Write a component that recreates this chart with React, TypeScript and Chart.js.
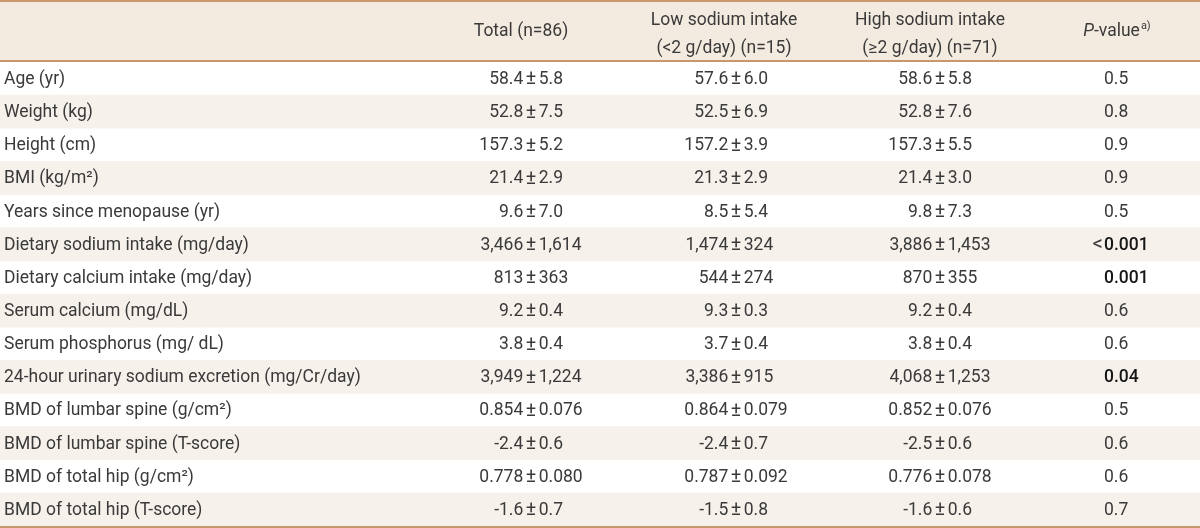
import React, { useEffect, useRef } from "react";
import { Chart, registerables } from "chart.js";

Chart.register(...registerables);

// ---------- data ----------
const rowLabels = [
  "Age (yr)",
  "Weight (kg)",
  "Height (cm)",
  "BMI (kg/m²)",
  "Years since menopause (yr)",
  "Dietary sodium intake (mg/day)",
  "Dietary calcium intake (mg/day)",
  "Serum calcium (mg/dL)",
  "Serum phosphorus (mg/ dL)",
  "24-hour urinary sodium excretion (mg/Cr/day)",
  "BMD of lumbar spine (g/cm²)",
  "BMD of lumbar spine (T-score)",
  "BMD of total hip (g/cm²)",
  "BMD of total hip (T-score)",
];

const totalValues = [
  "58.4±5.8", "52.8±7.5", "157.3±5.2", "21.4±2.9", "9.6±7.0",
  "3,466±1,614", "813±363", "9.2±0.4", "3.8±0.4", "3,949±1,224",
  "0.854±0.076", "-2.4±0.6", "0.778±0.080", "-1.6±0.7",
];

const lowValues = [
  "57.6±6.0", "52.5±6.9", "157.2±3.9", "21.3±2.9", "8.5±5.4",
  "1,474±324", "544±274", "9.3±0.3", "3.7±0.4", "3,386±915",
  "0.864±0.079", "-2.4±0.7", "0.787±0.092", "-1.5±0.8",
];

const highValues = [
  "58.6±5.8", "52.8±7.6", "157.3±5.5", "21.4±3.0", "9.8±7.3",
  "3,886±1,453", "870±355", "9.2±0.4", "3.8±0.4", "4,068±1,253",
  "0.852±0.076", "-2.5±0.6", "0.776±0.078", "-1.6±0.6",
];

const pValues = [
  "0.5", "0.8", "0.9", "0.9", "0.5",
  "<0.001", "0.001", "0.6", "0.6", "0.04",
  "0.5", "0.6", "0.6", "0.7",
];

const pSignificant = [
  false, false, false, false, false,
  true, true, false, false, true,
  false, false, false, false,
];

const headerTotal = ["Total (n=86)"];
const headerLow = ["Low sodium intake", "(<2 g/day) (n=15)"];
const headerHigh = ["High sodium intake", "(≥2 g/day) (n=71)"];
const headerPItalic = "P";
const headerPRest = "-value";
const headerPNote = "a)";

// ---------- layout / style (table units on the x scale) ----------
const X_MAX = 1200;
const LABEL_X = 4;
const PM_TOTAL = 531;
const PM_LOW = 736;
const PM_HIGH = 940;
const P_ANCHOR = 1104;
const HEAD_TOTAL = 521;
const HEAD_LOW = 724;
const HEAD_HIGH = 930;
const HEAD_P = 1117;

const FONT_FAMILY = "Roboto, 'Liberation Sans', 'DejaVu Sans', sans-serif";
const FONT_SIZE = 17.5;
const TEXT_COLOR = "#3a3a3a";
const BOLD_COLOR = "#161616";
const HEADER_BG = "#f4ebe0";
const STRIPE_BG = "#f6f1eb";
const RULE_COLOR = "#c8976b";

function font(weight = 400, size = FONT_SIZE, style = "normal") {
  return `${style} ${weight} ${size}px ${FONT_FAMILY}`;
}

function drawPM(ctx: CanvasRenderingContext2D, text: string, cx: number, y: number) {
  const idx = text.indexOf("±");
  if (idx < 0) {
    ctx.textAlign = "center";
    ctx.fillText(text, cx, y);
    return;
  }
  const left = text.slice(0, idx);
  const right = text.slice(idx + 1);
  const base = ctx.font;
  ctx.font = font(400, FONT_SIZE + 2);
  const pmW = ctx.measureText("±").width;
  const gap = 2.5;
  ctx.textAlign = "center";
  ctx.fillText("±", cx, y);
  ctx.font = base;
  ctx.textAlign = "right";
  ctx.fillText(left, cx - pmW / 2 - gap, y);
  ctx.textAlign = "left";
  ctx.fillText(right, cx + pmW / 2 + gap, y);
}

const tablePlugin = {
  id: "tableText",
  beforeDatasetsDraw(chart: any) {
    const { ctx, chartArea } = chart;
    const x = chart.scales.x;
    const left = x.getPixelForValue(0);
    const right = x.getPixelForValue(X_MAX);
    ctx.save();
    ctx.fillStyle = HEADER_BG;
    ctx.fillRect(left, 0, right - left, chartArea.top);
    ctx.restore();
  },
  afterDatasetsDraw(chart: any) {
    const { ctx, chartArea } = chart;
    const x = chart.scales.x;
    const y = chart.scales.y;
    const left = x.getPixelForValue(0);
    const right = x.getPixelForValue(X_MAX);
    ctx.save();

    // rules
    ctx.fillStyle = RULE_COLOR;
    ctx.fillRect(left, 0, right - left, 2);
    ctx.fillRect(left, chartArea.top - 2, right - left, 2);
    ctx.fillRect(left, chartArea.bottom, right - left, 2);

    // header text
    ctx.fillStyle = TEXT_COLOR;
    ctx.textBaseline = "middle";
    ctx.font = font();
    const hMid = chartArea.top / 2 + 1;
    const lineGap = 28;
    const drawHeader = (lines: string[], cx: number) => {
      ctx.textAlign = "center";
      const n = lines.length;
      const mid = n > 1 ? hMid + 3 : hMid;
      lines.forEach((ln, i) => {
        const yy = mid + (i - (n - 1) / 2) * lineGap;
        ctx.fillText(ln, x.getPixelForValue(cx), yy);
      });
    };
    drawHeader(headerTotal, HEAD_TOTAL);
    drawHeader(headerLow, HEAD_LOW);
    drawHeader(headerHigh, HEAD_HIGH);

    // P-value header with italic P and superscript note
    ctx.font = font(400, FONT_SIZE, "italic");
    const wP = ctx.measureText(headerPItalic).width;
    ctx.font = font();
    const wRest = ctx.measureText(headerPRest).width;
    ctx.font = font(400, 11);
    const wNote = ctx.measureText(headerPNote).width;
    const total = wP + wRest + 1 + wNote;
    let px = x.getPixelForValue(HEAD_P) - total / 2;
    ctx.textAlign = "left";
    ctx.font = font(400, FONT_SIZE, "italic");
    ctx.fillText(headerPItalic, px, hMid);
    px += wP;
    ctx.font = font();
    ctx.fillText(headerPRest, px, hMid);
    px += wRest + 1;
    ctx.font = font(400, 11);
    ctx.fillText(headerPNote, px, hMid - 6);

    // body rows
    rowLabels.forEach((label, i) => {
      const yy = y.getPixelForValue(i) + 1;
      ctx.fillStyle = TEXT_COLOR;
      ctx.font = font();
      ctx.textAlign = "left";
      ctx.fillText(label, x.getPixelForValue(LABEL_X), yy);
      drawPM(ctx, totalValues[i], x.getPixelForValue(PM_TOTAL), yy);
      drawPM(ctx, lowValues[i], x.getPixelForValue(PM_LOW), yy);
      drawPM(ctx, highValues[i], x.getPixelForValue(PM_HIGH), yy);

      const pv = pValues[i];
      const m = pv.match(/^[^0-9]*/);
      const prefix = m ? m[0] : "";
      const rest = pv.slice(prefix.length);
      const ax = x.getPixelForValue(P_ANCHOR);
      if (prefix) {
        ctx.font = font(400, FONT_SIZE + 3);
        ctx.textAlign = "right";
        ctx.fillText(prefix, ax - 1, yy);
        ctx.font = font();
      }
      if (pSignificant[i]) {
        ctx.font = font(500);
        ctx.fillStyle = BOLD_COLOR;
      }
      ctx.textAlign = "left";
      ctx.fillText(rest, ax, yy);
    });

    ctx.restore();
  },
};

export default function App() {
  const canvasRef = useRef<HTMLCanvasElement | null>(null);

  useEffect(() => {
    document.body.style.margin = "0";
    const canvas = canvasRef.current;
    if (!canvas) return;
    const chart = new Chart(canvas, {
      type: "bar",
      data: {
        labels: rowLabels,
        datasets: [
          {
            label: "stripes",
            data: rowLabels.map((_, i) => (i % 2 === 1 ? [0, X_MAX] : null)) as any,
            backgroundColor: STRIPE_BG,
            borderWidth: 0,
            barPercentage: 1,
            categoryPercentage: 1,
          },
        ],
      },
      options: {
        indexAxis: "y",
        animation: false,
        responsive: false,
        devicePixelRatio: 1,
        layout: { padding: { top: 62, bottom: 2, left: 0, right: 0 } },
        scales: {
          x: { type: "linear", min: 0, max: X_MAX, display: false },
          y: { type: "category", display: false, offset: true },
        },
        plugins: {
          legend: { display: false },
          tooltip: { enabled: false },
        },
        events: [],
      },
      plugins: [tablePlugin],
    });
    return () => chart.destroy();
  }, []);

  return (
    <div style={{ position: "fixed", left: 0, top: 0, width: 1200, height: 528, background: "#ffffff" }}>
      <canvas ref={canvasRef} width={1200} height={528} style={{ display: "block" }} />
    </div>
  );
}
